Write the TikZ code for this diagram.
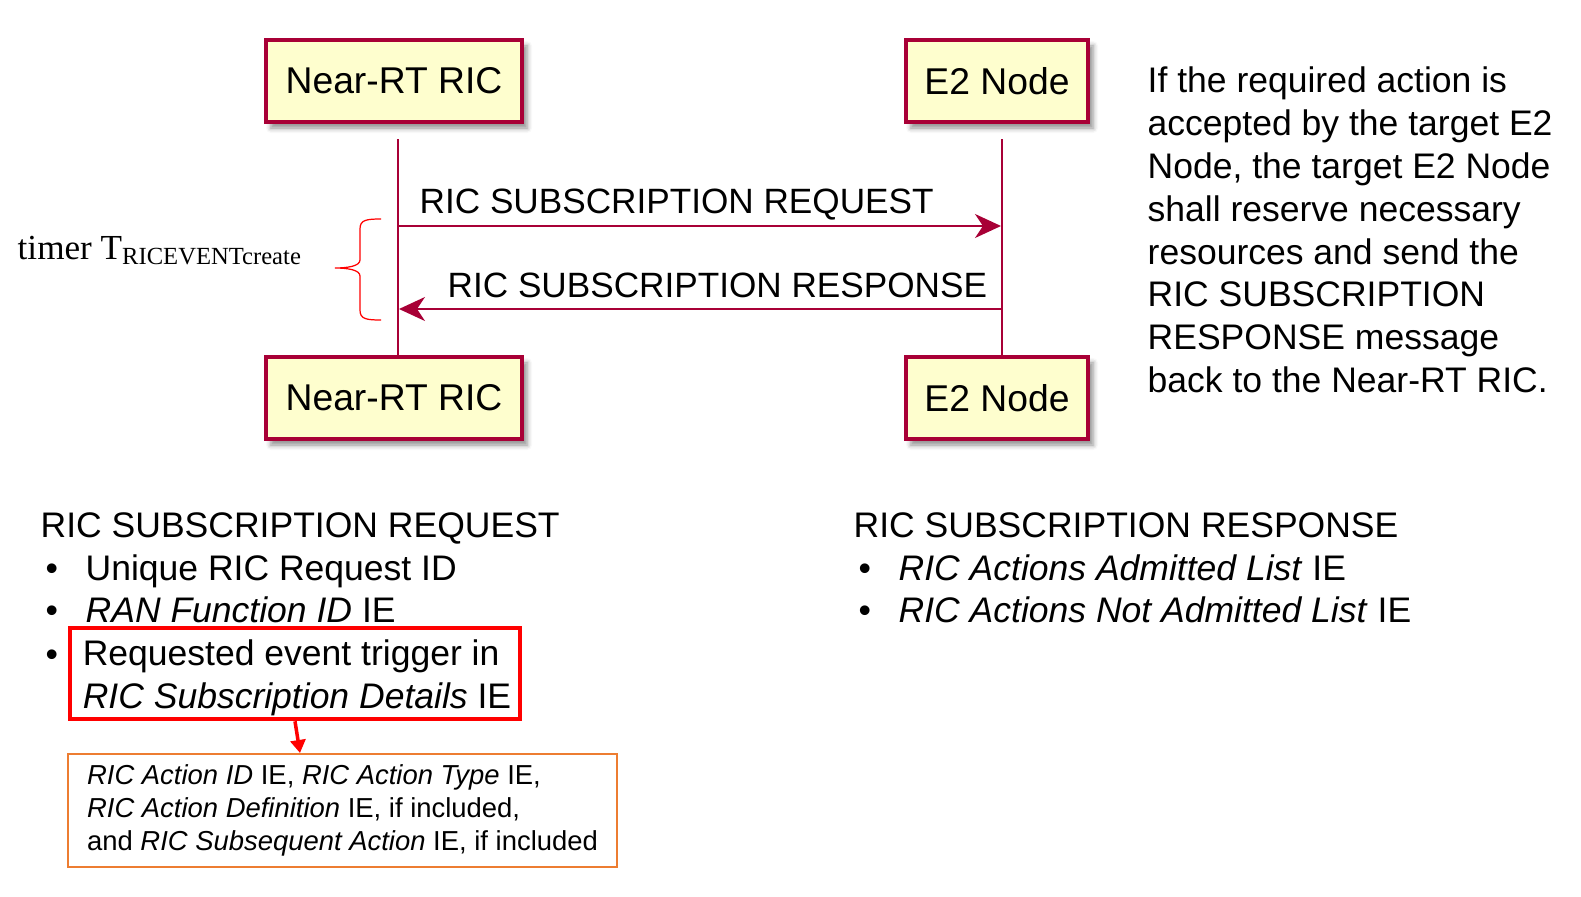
\documentclass[tikz,border=0pt]{standalone}
\usepackage{fontspec}
\setmainfont{Liberation Sans}
\newfontfamily\timesfont{Liberation Serif}
\usetikzlibrary{arrows.meta,calc,positioning,shadows.blur}
\definecolor{lifeline}{RGB}{168,0,54}
\definecolor{participant}{RGB}{254,254,206}
\definecolor{detailorange}{RGB}{237,125,49}
\tikzset{%
  party/.style={draw=lifeline, line width=1.1pt, fill=participant,
    minimum height=0.82cm, font=\fontsize{10.6}{12}\selectfont,
    blur shadow={shadow xshift=0.05cm, shadow yshift=-0.06cm,
      shadow blur radius=0.05cm, shadow opacity=45}},% participant box
  life/.style={draw=lifeline, line width=0.6pt},% lifeline
  msg/.style={draw=lifeline, line width=0.6pt,
    -{Stealth[length=0.26cm, width=0.24cm, inset=0.08cm]}},% message arrow
  msglabel/.style={anchor=base west, inner sep=0, font=\fontsize{10}{12}\selectfont},
  txt/.style={anchor=base west, inner sep=0, font=\fontsize{10.1}{12.2}\selectfont},
  para/.style={anchor=north west, inner sep=0, align=left,
    font=\fontsize{10.1}{12.2}\selectfont},% side note
  timer/.style={anchor=base west, inner sep=0, font=\timesfont\fontsize{10}{12}\selectfont},
  brace/.style={draw=red, line width=0.35pt},
  trigger/.style={draw=red, line width=1.2pt, align=left, minimum width=4.5cm,
    minimum height=0.85cm, inner sep=0.03cm, font=\fontsize{10.1}{12.2}\selectfont},
  details/.style={draw=detailorange, line width=0.6pt, minimum width=5.49cm,
    minimum height=1.13cm, inner sep=0.03cm, align=left,
    font=\fontsize{7.8}{9.4}\selectfont},% action list
  detailarrow/.style={draw=red, line width=1pt, -{Triangle[length=0.13cm, width=0.15cm]}}
}
\begin{document}
\begin{tikzpicture}[x=0.01cm, y=-0.01cm]
\useasboundingbox (0,0) rectangle (1581,897);
% participants
\node[party, minimum width=2.56cm] (ricTop) at (394,81) {Near-RT RIC};
\node[party, minimum width=1.82cm] (e2Top) at (997,81) {E2 Node};
\node[party, minimum width=2.56cm] (ricBot) at (394,398) {Near-RT RIC};
\node[party, minimum width=1.82cm] (e2Bot) at (997,398) {E2 Node};
% lifelines
\coordinate (ricLife) at (398,139);
\coordinate (e2Life) at (1002,139);
\draw[life] (ricLife) -- (ricLife |- ricBot.north);
\draw[life] (e2Life) -- (e2Life |- e2Bot.north);
% messages
\coordinate (reqStart) at (398,226);
\coordinate (reqEnd) at (1001,226);
\coordinate (respStart) at (1001,309);
\coordinate (respEnd) at (399,309);
\draw[msg] (reqStart) -- (reqEnd);
\draw[msg] (respStart) -- (respEnd);
\node[msglabel] (reqLabel) at (419,213) {RIC SUBSCRIPTION REQUEST};
\node[msglabel] (respLabel) at (447,297) {RIC SUBSCRIPTION RESPONSE};
% timer brace
\draw[brace] (381,219) .. controls (366,219) and (360,220) .. (360,229) -- (360,260)
  .. controls (360,266) and (348,268) .. (335,268)
  .. controls (348,268) and (360,270) .. (360,276) -- (360,310)
  .. controls (360,319) and (366,320) .. (381,320);
\node[timer] (timer) at (17,259) {timer T\textsubscript{RICEVENTcreate}};
% side note
\node[para] (note) at (1147,66) {If the required action is\\
  accepted by the target E2\\
  Node, the target E2 Node\\
  shall reserve necessary\\
  resources and send the\\
  RIC SUBSCRIPTION\\
  RESPONSE message\\
  back to the Near-RT RIC.};
% request contents
\node[txt] (reqHead) at (40,537) {RIC SUBSCRIPTION REQUEST};
\node[txt] (reqB1) at (45,580) {•};
\node[txt] (reqT1) at (85,580) {Unique RIC Request ID};
\node[txt] (reqB2) at (45,622) {•};
\node[txt] (reqT2) at (85,622) {\textit{RAN Function ID} IE};
\node[txt] (reqB3) at (45,666) {•};
\node[trigger] (trig) at (295,673.5) {\rule{0pt}{0.35cm}\hspace*{0.04cm}Requested event trigger in\\
  \hspace*{0.04cm}\textit{RIC Subscription Details} IE};
\node[details] (actions) at (342.5,810.5) {\textit{RIC Action ID} IE, \textit{RIC Action Type} IE,\\
  \textit{RIC Action Definition} IE, if included,\\
  and \textit{RIC Subsequent Action} IE, if included};
\coordinate (actTip) at (300,753);
\draw[detailarrow] (trig.south) -- (actTip);
% response contents
\node[txt] (respHead) at (853,537) {RIC SUBSCRIPTION RESPONSE};
\node[txt] (respB1) at (858,580) {•};
\node[txt] (respT1) at (898,580) {\textit{RIC Actions Admitted List} IE};
\node[txt] (respB2) at (858,622) {•};
\node[txt] (respT2) at (898,622) {\textit{RIC Actions Not Admitted List} IE};
\end{tikzpicture}
\end{document}
